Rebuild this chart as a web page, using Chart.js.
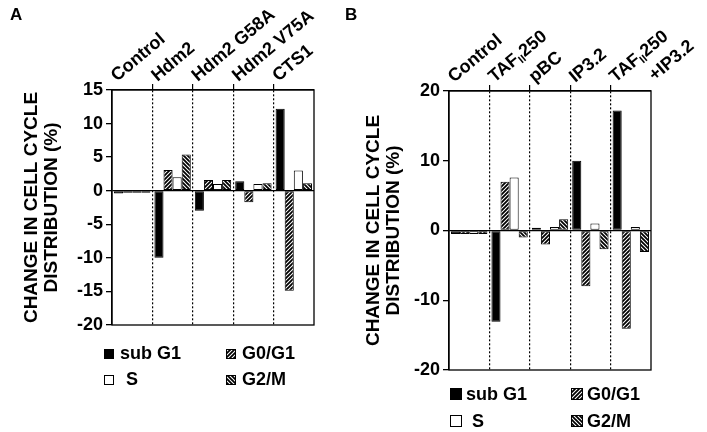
<!DOCTYPE html>
<html>
<head>
  <title>Change in cell cycle distribution</title>
  <script src="https://cdn.jsdelivr.net/npm/chart.js"></script>
  <style>
    body { margin: 0; background: #fff; }
    #wrapA { position: absolute; left: 0; top: 0; width: 340px; height: 432px; }
    #wrapB { position: absolute; left: 340px; top: 0; width: 367px; height: 432px; }
  </style>
</head>
<body>
  <div id="wrapA"><canvas id="chartA"></canvas></div>
  <div id="wrapB"><canvas id="chartB"></canvas></div>

  <script>
    // Panel A data
    const categoriesA = ['Control', 'Hdm2', 'Hdm2 G58A', 'Hdm2 V75A', 'CTS1'];
    const subG1A = [-0.4, -10, -3, 1.4, 12.2];
    const g0g1A = [-0.3, 3.1, 1.6, -1.7, -14.9];
    const sA = [-0.3, 2.0, 1.0, 1.0, 3.0];
    const g2mA = [-0.3, 5.4, 1.6, 1.1, 1.1];

    // Panel B data
    const categoriesB = ['Control', 'TAFII250', 'pBC', 'IP3.2', ['TAFII250', '+IP3.2']];
    const subG1B = [-0.5, -13.1, 0.4, 10, 17.2];
    const g0g1B = [-0.5, 7.0, -2.0, -8.0, -14.1];
    const sB = [-0.5, 7.6, 0.5, 1.0, 0.5];
    const g2mB = [-0.5, -1.0, 1.6, -2.7, -3.1];

    const seriesNames = ['sub G1', 'G0/G1', 'S', 'G2/M'];
    const yTitle = ['CHANGE IN CELL CYCLE', 'DISTRIBUTION (%)'];

    const FONT = "'Liberation Sans', Arial, Helvetica, sans-serif";
    Chart.defaults.font.family = FONT;
    Chart.defaults.font.weight = 'bold';
    Chart.defaults.color = '#000';

    // hatch fill: 'up' = ////, 'down' = \\\\
    function makeHatch(ctx, dir) {
      const size = 4;
      const tile = document.createElement('canvas');
      tile.width = size; tile.height = size;
      const g = tile.getContext('2d');
      g.fillStyle = '#fff';
      g.fillRect(0, 0, size, size);
      g.strokeStyle = '#000';
      g.lineWidth = 1.8;
      g.beginPath();
      if (dir === 'up') {
        g.moveTo(-1, size + 1); g.lineTo(size + 1, -1);
        g.moveTo(-1, 1); g.lineTo(1, -1);
        g.moveTo(size - 1, size + 1); g.lineTo(size + 1, size - 1);
      } else {
        g.moveTo(-1, -1); g.lineTo(size + 1, size + 1);
        g.moveTo(size - 1, -1); g.lineTo(size + 1, 1);
        g.moveTo(-1, size - 1); g.lineTo(1, size + 1);
      }
      g.stroke();
      return ctx.createPattern(tile, 'repeat');
    }

    // draws text, "II" right after "TAF" goes small and low
    function drawRich(ctx, text, x, y) {
      const parts = text.split(/(?<=TAF)(II)/);
      parts.forEach(p => {
        if (p === 'II') {
          ctx.font = 'bold 11px ' + FONT;
          ctx.fillText(p, x, y + 3);
        } else {
          ctx.font = 'bold 18px ' + FONT;
          ctx.fillText(p, x, y);
        }
        x += ctx.measureText(p).width;
      });
    }

    const panelPlugin = {
      id: 'panel',
      afterDraw(chart, args, opts) {
        const ctx = chart.ctx;
        const a = chart.chartArea;
        const xs = chart.scales.x;
        ctx.save();

        // frame
        ctx.strokeStyle = '#000';
        ctx.lineWidth = 1.3;
        ctx.strokeRect(a.left, a.top, a.right - a.left, a.bottom - a.top);

        // category names, slanted above the top axis
        ctx.fillStyle = '#000';
        ctx.textBaseline = 'alphabetic';
        ctx.textAlign = 'left';
        const step = (a.right - a.left) / chart.data.labels.length;
        chart.data.labels.forEach((lab, i) => {
          const x0 = xs.getPixelForValue(i) - step / 2 + 5;
          ctx.save();
          ctx.translate(x0, a.top - 8);
          ctx.rotate(-40 * Math.PI / 180);
          const lines = Array.isArray(lab) ? lab : [lab];
          lines.forEach((t, k) => drawRich(ctx, t, k * 31, k * 24));
          ctx.restore();
        });

        // legend, two by two
        const sw = opts.swatch;
        chart.data.datasets.forEach((ds, i) => {
          const col = i % 2, row = Math.floor(i / 2);
          const x = a.left + opts.legendX + col * opts.colGap;
          const y = a.bottom + opts.legendY + row * opts.rowGap;
          ctx.fillStyle = ds.backgroundColor;
          ctx.fillRect(x, y, sw, sw);
          ctx.lineWidth = 1;
          ctx.strokeStyle = '#000';
          ctx.strokeRect(x + 0.5, y + 0.5, sw - 1, sw - 1);
          ctx.fillStyle = '#000';
          ctx.font = 'bold 18px ' + FONT;
          ctx.fillText(ds.label, x + (ds.label === 'S' ? 22 : 16), y + sw);
        });

        // panel letter
        ctx.font = 'bold 17px ' + FONT;
        ctx.fillText(opts.letter, opts.letterX, 20);
        ctx.restore();
      }
    };

    function buildChart(id, labels, values, yMin, yMax, yStep, layout) {
      const ctx = document.getElementById(id).getContext('2d');
      const fills = ['#000', makeHatch(ctx, 'up'), '#fff', makeHatch(ctx, 'down')];
      const edge = c => (c.index === undefined || c.index === 0) ? 'rgba(0,0,0,0)' : '#000';

      return new Chart(ctx, {
        type: 'bar',
        data: {
          labels: labels,
          datasets: seriesNames.map((name, i) => ({
            label: name,
            data: values[i],
            backgroundColor: fills[i],
            borderColor: '#000',
            borderWidth: 1,
            borderSkipped: false,
            categoryPercentage: 0.9,
            barPercentage: 1.0
          }))
        },
        plugins: [panelPlugin],
        options: {
          responsive: true,
          maintainAspectRatio: false,
          animation: false,
          layout: { padding: { left: 0, top: 0, right: layout.right, bottom: layout.bottom } },
          plugins: {
            legend: { display: false },
            tooltip: { enabled: false },
            panel: layout.panel
          },
          scales: {
            x: {
              position: 'top',
              ticks: { display: false },
              grid: {
                offset: true,
                color: edge,
                tickColor: edge,
                lineWidth: 1.2,
                tickWidth: 1.2,
                tickLength: 6
              },
              border: { display: true, color: '#000', width: 1.3, dash: [2, 2] },
              afterFit: s => { s.height = layout.top; }
            },
            y: {
              min: yMin,
              max: yMax,
              ticks: { stepSize: yStep, padding: 3, font: { size: 18, weight: 'bold' }, color: '#000' },
              grid: {
                color: c => c.tick && c.tick.value === 0 ? '#000' : 'rgba(0,0,0,0)',
                tickColor: '#000',
                lineWidth: 1.3,
                tickLength: 6
              },
              border: { display: true, color: '#000', width: 1.3 },
              title: {
                display: true,
                text: yTitle,
                font: { size: 19, weight: 'bold', lineHeight: 1.05 },
                padding: { top: layout.titlePad, bottom: 0 },
                color: '#000'
              },
              afterFit: s => { s.width = layout.left; }
            }
          }
        }
      });
    }

    buildChart('chartA', categoriesA, [subG1A, g0g1A, sA, g2mA], -20, 15, 5, {
      left: 112, top: 90, right: 26, bottom: 107, titlePad: 22,
      panel: { letter: 'A', letterX: 10, legendX: -8, legendY: 24, colGap: 122, rowGap: 26, swatch: 10 }
    });

    buildChart('chartB', categoriesB, [subG1B, g0g1B, sB, g2mB], -20, 20, 10, {
      left: 109, top: 91, right: 56, bottom: 62, titlePad: 24,
      panel: { letter: 'B', letterX: 5, legendX: 1, legendY: 18, colGap: 121, rowGap: 27, swatch: 12 }
    });
  </script>
</body>
</html>
